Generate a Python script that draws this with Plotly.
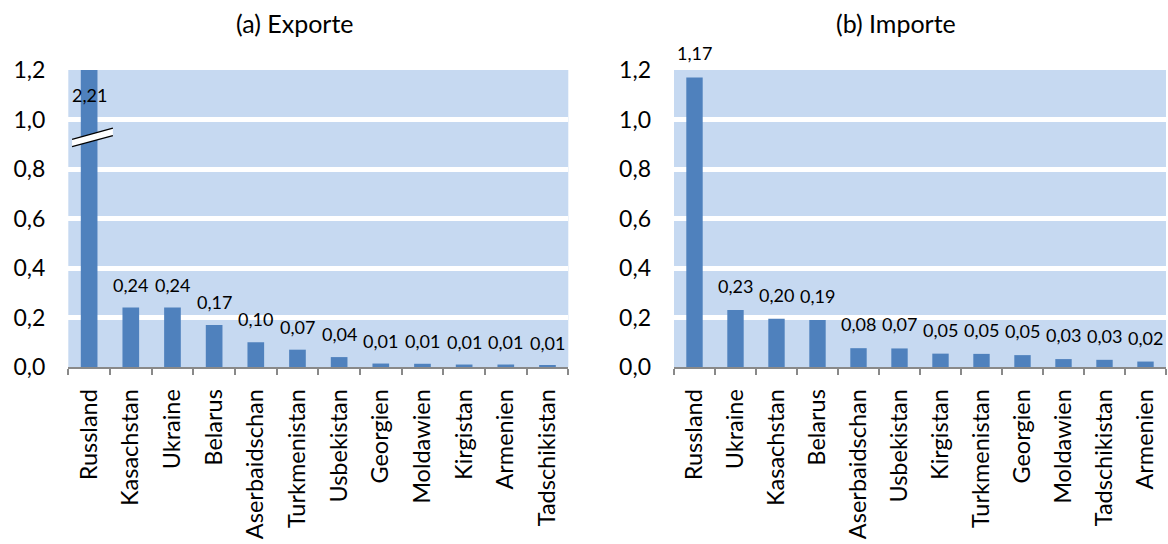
import plotly.graph_objects as go

# ---- data ----
exp_countries = ["Russland", "Kasachstan", "Ukraine", "Belarus", "Aserbaidschan", "Turkmenistan",
                 "Usbekistan", "Georgien", "Moldawien", "Kirgistan", "Armenien", "Tadschikistan"]
exp_values = [2.21, 0.24, 0.24, 0.17, 0.10, 0.07, 0.04, 0.014, 0.013, 0.010, 0.010, 0.006]

imp_countries = ["Russland", "Ukraine", "Kasachstan", "Belarus", "Aserbaidschan", "Usbekistan",
                 "Kirgistan", "Turkmenistan", "Georgien", "Moldawien", "Tadschikistan", "Armenien"]
imp_values = [1.17, 0.23, 0.195, 0.19, 0.076, 0.075, 0.054, 0.053, 0.048, 0.032, 0.029, 0.022]

y_ticks = [0.0, 0.2, 0.4, 0.6, 0.8, 1.0, 1.2]
y_max = 1.2
break_level = 0.925

BAR = "#4F81BD"
BG = "#C6D9F1"
FONT = "Lato"
OFF = 0  # body margin removed via post_script


def fmt(v):
    return f"{v:.2f}".replace(".", ",")


W, H = 1168, 544
dom1 = [(68.3 - OFF) / W, (568.3 - OFF) / W]
dom2 = [(674 - OFF) / W, (1166 - OFF) / W]
ydom = [1 - (367 - OFF) / H, 1 - (70 - OFF) / H]

fig = go.Figure()
fig.add_trace(go.Bar(x=exp_countries, y=exp_values, marker=dict(color=BAR, line=dict(width=0)),
                     cliponaxis=True, xaxis="x", yaxis="y", showlegend=False, hoverinfo="x+y"))
fig.add_trace(go.Bar(x=imp_countries, y=imp_values, marker=dict(color=BAR, line=dict(width=0)),
                     cliponaxis=True, xaxis="x2", yaxis="y2", showlegend=False, hoverinfo="x+y"))

xcommon = dict(type="category", showline=True, linecolor="#898989", linewidth=1.5,
               ticks="outside", tickson="boundaries", ticklen=6, tickcolor="#898989", tickwidth=1.5,
               tickangle=-90, tickfont=dict(size=23.5, family=FONT, color="black"),
               ticklabelstandoff=11, showgrid=False, automargin=False)
ycommon = dict(range=[0, y_max], tickvals=y_ticks,
               ticktext=[f"{v:.1f}".replace(".", ",") for v in y_ticks],
               showgrid=True, gridcolor="white", gridwidth=5, zeroline=False, showline=False,
               tickfont=dict(size=23, family=FONT, color="black"), ticklabelstandoff=22,
               automargin=False)

fig.update_layout(
    width=W, height=H,
    margin=dict(l=0, r=0, t=0, b=0),
    paper_bgcolor="white", plot_bgcolor=BG,
    bargap=0.6,
    font=dict(family=FONT, color="black"),
    xaxis=dict(domain=dom1, anchor="y", **xcommon),
    yaxis=dict(domain=ydom, anchor="x", **ycommon),
    xaxis2=dict(domain=dom2, anchor="y2", **xcommon),
    yaxis2=dict(domain=ydom, anchor="x2", **ycommon),
)

# titles
fig.add_annotation(text="(a) Exporte", x=(295 - OFF) / W, y=1 - (23 - OFF) / H, xref="paper", yref="paper",
                   xanchor="center", yanchor="middle", showarrow=False,
                   font=dict(size=25, family=FONT, color="black"))
fig.add_annotation(text="(b) Importe", x=(896 - OFF) / W, y=1 - (23 - OFF) / H, xref="paper", yref="paper",
                   xanchor="center", yanchor="middle", showarrow=False,
                   font=dict(size=25, family=FONT, color="black"))

# data labels
lab_font = dict(size=18, family=FONT, color="black")
for c, v in zip(exp_countries[1:], exp_values[1:]):
    fig.add_annotation(text=fmt(v), x=c, y=v, xref="x", yref="y", yanchor="middle", yshift=23,
                       showarrow=False, font=lab_font)
for c, v in zip(imp_countries, imp_values):
    fig.add_annotation(text=fmt(v), x=c, y=v, xref="x2", yref="y2", yanchor="middle", yshift=24,
                       showarrow=False, font=lab_font)
# label for clipped Russland export bar
fig.add_annotation(text=fmt(exp_values[0]), x=exp_countries[0], y=y_max - 0.1, xref="x", yref="y",
                   yanchor="middle", showarrow=False, font=lab_font)

# axis break marks
x0, x1 = -0.41, 0.57
lo0, lo1 = break_level - 0.035, break_level + 0.01
gap = 0.03
fig.add_shape(type="path", xref="x", yref="y",
              path=f"M {x0} {lo0} L {x1} {lo1} L {x1} {lo1 + gap} L {x0} {lo0 + gap} Z",
              fillcolor="white", line=dict(width=0))
fig.add_shape(type="line", xref="x", yref="y", x0=x0, x1=x1, y0=lo0, y1=lo1,
              line=dict(color="black", width=1.3))
fig.add_shape(type="line", xref="x", yref="y", x0=x0, x1=x1, y0=lo0 + gap, y1=lo1 + gap,
              line=dict(color="black", width=1.3))

fig.write_html("out.html", config={"displayModeBar": False},
               post_script="document.body.style.margin='0';document.body.style.overflow='hidden';")
